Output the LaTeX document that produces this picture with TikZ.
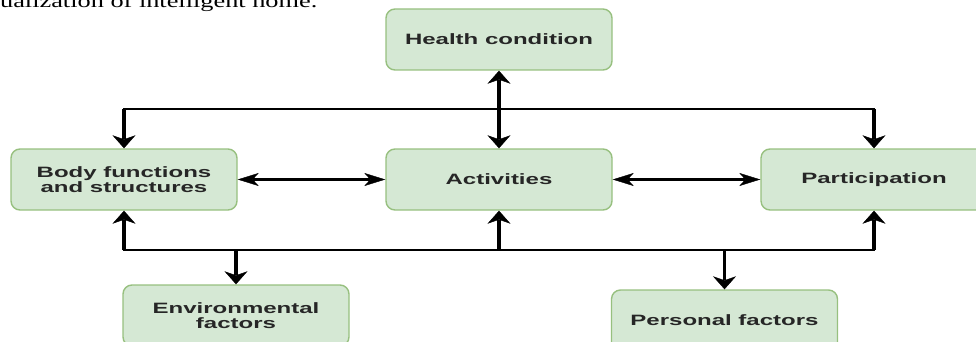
\documentclass[tikz,border=0pt]{standalone}
\usepackage{fontspec}
\usetikzlibrary{arrows.meta}
\newfontfamily\boxfont[FakeStretch=1.6]{Liberation Sans}
\newfontfamily\capfont[FakeStretch=1.385]{Liberation Serif}
\definecolor{boxfill}{HTML}{D5E8D4}
\definecolor{boxdraw}{HTML}{97C07F}
\definecolor{txt}{HTML}{262626}
\tikzset{
  vtip/.tip={Stealth[length=13pt,width=23pt,inset=4pt,line width=0.4pt]},
  htip/.tip={Stealth[length=21pt,width=13pt,inset=6pt,line width=0.4pt]},
  greenbox/.style={draw=boxdraw, fill=boxfill, line width=1.4pt, rounded corners=9pt,
    minimum width=226pt, minimum height=61pt, inner sep=0pt, align=center,
    text=txt, font=\boxfont\bfseries\fontsize{15}{15.5}\selectfont},
  hline/.style={draw=black, line width=2.6pt, line cap=rect},
  vline/.style={draw=black, line width=3.8pt},
}
\begin{document}
\begin{tikzpicture}[x=1pt,y=-1pt]
\useasboundingbox (0,0) rectangle (976,342);
\clip (0,0) rectangle (976,342);
\node[anchor=base east, inner sep=0pt, font=\capfont\fontsize{19}{21}\selectfont] (cap) at (317.5,7.3) {ualization of intelligent home.};
% boxes
\node[greenbox] (health) at (499,39.5) {Health condition};
\node[greenbox] (body) at (124,179.5) {Body functions\\and structures};
\node[greenbox] (act) at (499,179.5) {Activities};
\node[greenbox] (part) at (874,179.5) {Participation};
\node[greenbox] (env) at (236,315.5) {Environmental\\factors};
\node[greenbox] (pers) at (724.5,320.5) {Personal factors};
% bus coordinates
\coordinate (tl) at (124,109);
\coordinate (tr) at (874,109);
\coordinate (bl) at (124,250);
\coordinate (br) at (874,250);
\coordinate (bm) at (499,250);
\coordinate (be) at (236,250);
\coordinate (bp) at (724.5,250);
% top bus
\draw[hline] (tl) -- (tr);
\draw[vline, -{vtip}] (tl) -- (body.north);
\draw[vline, -{vtip}] (tr) -- (part.north);
\draw[vline, {vtip}-{vtip}] (health.south) -- (act.north);
% bottom bus
\draw[hline] (bl) -- (br);
\draw[vline, -{vtip}] (bl) -- (body.south);
\draw[vline, -{vtip}] (bm) -- (act.south);
\draw[vline, -{vtip}] (br) -- (part.south);
\draw[vline, -{vtip}] (be) -- (env.north);
\draw[vline, -{vtip}] (bp) -- (pers.north);
% horizontal links
\draw[hline, line cap=butt, {htip}-{htip}] (body.east) -- (act.west);
\draw[hline, line cap=butt, {htip}-{htip}] (act.east) -- (part.west);
\end{tikzpicture}
\end{document}
